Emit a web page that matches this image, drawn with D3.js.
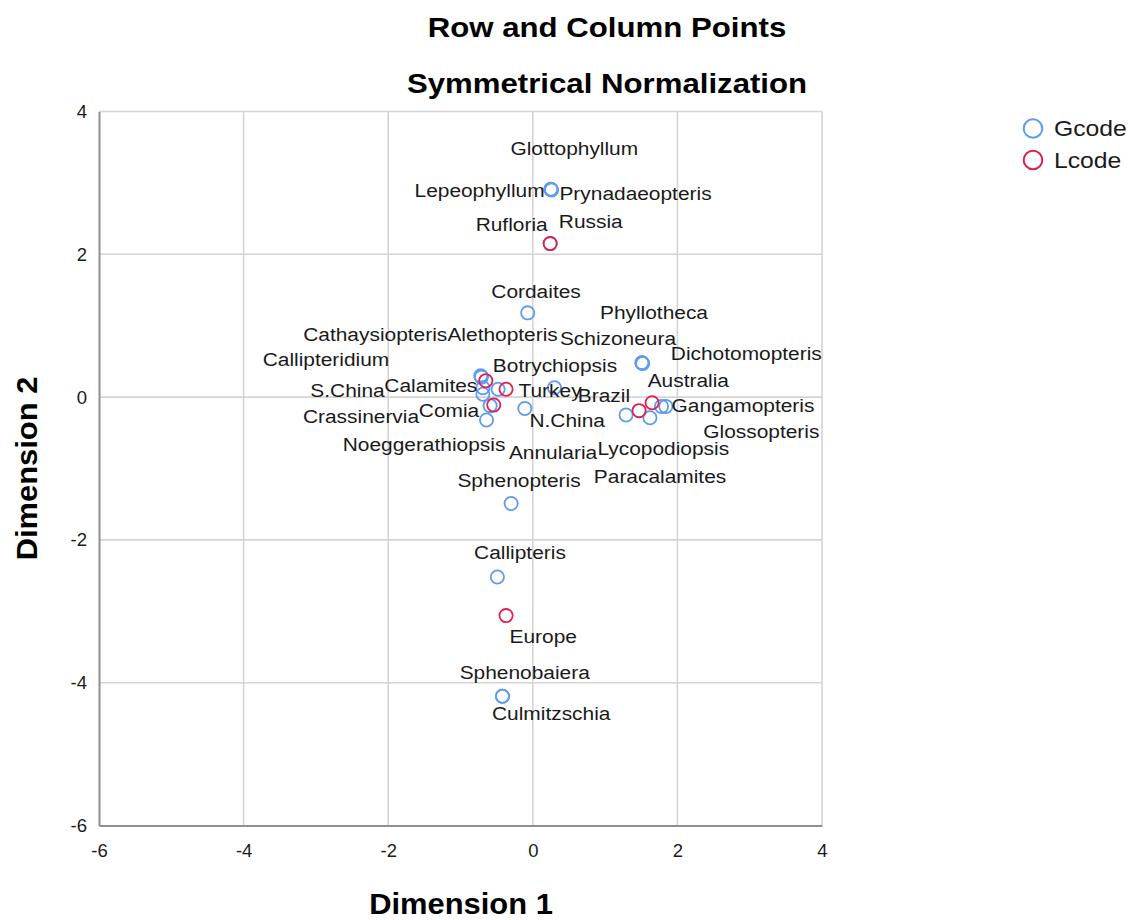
<!DOCTYPE html>
<html>
<head>
<meta charset="utf-8">
<script src="https://cdn.jsdelivr.net/npm/d3@7"></script>
<style>
  html, body { margin: 0; padding: 0; background: #ffffff; }
  svg { display: block; font-family: "Liberation Sans", Arial, sans-serif; }
</style>
</head>
<body>
<svg id="chart" width="1132" height="920"></svg>
<script>
// Row points (genera, Gcode)
const gcodeNames = [
  "Glottophyllum", "Lepeophyllum", "Prynadaeopteris", "Rufloria", "Cordaites",
  "Phyllotheca", "Schizoneura", "Dichotomopteris", "Cathaysiopteris", "Alethopteris",
  "Callipteridium", "Calamites", "Botrychiopsis", "Crassinervia", "Comia",
  "Noeggerathiopsis", "Annularia", "Gangamopteris", "Glossopteris", "Lycopodiopsis",
  "Paracalamites", "Sphenopteris", "Callipteris", "Sphenobaiera", "Culmitzschia"
];
const gcodeDim1 = [
  0.25, 0.25, 0.26, 0.24, -0.07,
  1.51, 1.51, 1.52, -0.72, -0.48,
  -0.71, -0.69, 0.30, -0.69, -0.59,
  -0.64, -0.11, 1.78, 1.84, 1.29,
  1.62, -0.30, -0.49, -0.42, -0.42
];
const gcodeDim2 = [
  2.91, 2.91, 2.90, 2.15, 1.18,
  0.48, 0.48, 0.47, 0.30, 0.11,
  0.28, 0.13, 0.13, 0.04, -0.12,
  -0.32, -0.16, -0.13, -0.13, -0.25,
  -0.29, -1.49, -2.52, -4.19, -4.19
];

// Column points (localities, Lcode)
const lcodeNames = ["Russia", "S.China", "Turkey", "N.China", "Brazil", "Australia", "Europe"];
const lcodeDim1  = [0.24, -0.65, -0.37, -0.54, 1.47, 1.65, -0.37];
const lcodeDim2  = [2.15, 0.23, 0.11, -0.11, -0.19, -0.08, -3.06];

const seriesNames = ["Gcode", "Lcode"];
const axisTicks = [-6, -4, -2, 0, 2, 4];
const titleLines = ["Row and Column Points", "Symmetrical Normalization"];
const xTitle = "Dimension 1";
const yTitle = "Dimension 2";

// Label placement: pixel offset of each label's centre from its point
const labelOffsets = {
  "Glottophyllum": [23.4, -40.5], "Lepeophyllum": [-71.3, 1.5], "Prynadaeopteris": [83.9, 3.3],
  "Rufloria": [-38.5, -19.1], "Russia": [40.6, -22.6], "Cordaites": [8.3, -21.9],
  "Phyllotheca": [12, -50.8], "Schizoneura": [-24, -24.8], "Dichotomopteris": [103.6, -9.8],
  "Cathaysiopteris": [-105.5, -41.7], "Alethopteris": [4.5, -55.2], "Callipteridium": [-155.5, -17.5],
  "Calamites": [-52.1, -2.3], "S.China": [-138.3, 9.3], "Botrychiopsis": [0.5, -22.8],
  "Turkey": [44, 0.8], "Australia": [36.2, -22.5], "Brazil": [-35.1, -14.9],
  "Gangamopteris": [81.5, -1.4], "Glossopteris": [95.5, 24.9], "Comia": [-41.1, 5],
  "Crassinervia": [-121.9, 22.5], "N.China": [73.4, 15.3], "Noeggerathiopsis": [-62.5, 24],
  "Annularia": [28.2, 43.5], "Lycopodiopsis": [37.2, 33.3], "Paracalamites": [10.1, 58.2],
  "Sphenopteris": [7.9, -23.5], "Callipteris": [22.6, -24.5], "Europe": [37.2, 20.4],
  "Sphenobaiera": [22.3, -24.3], "Culmitzschia": [48.8, 17]
};

const colors = { Gcode: "#5d9cf0", Lcode: "#dc2253" };

const svg = d3.select("#chart");

const x = d3.scaleLinear().domain([-6, 4]).range([99, 822]);
const y = d3.scaleLinear().domain([-6, 4]).range([825.5, 111.5]);

// Gridlines
const grid = svg.append("g");
grid.selectAll("line.gx")
  .data(axisTicks.filter(t => t !== -6))
  .join("line")
  .attr("x1", d => x(d)).attr("x2", d => x(d))
  .attr("y1", y(4)).attr("y2", y(-6))
  .attr("stroke", "#d4d4d4").attr("stroke-width", 1.6);
grid.selectAll("line.gy")
  .data(axisTicks.filter(t => t !== -6))
  .join("line")
  .attr("y1", d => y(d)).attr("y2", d => y(d))
  .attr("x1", x(-6)).attr("x2", x(4))
  .attr("stroke", "#d4d4d4").attr("stroke-width", 1.6);

// Axes (plain hyphen-minus in tick labels)
const tickFmt = d => String(d);
const xAxis = svg.append("g")
  .attr("transform", `translate(0,${y(-6)})`)
  .call(d3.axisBottom(x).tickValues(axisTicks).tickFormat(tickFmt)
    .tickSize(0).tickSizeOuter(0).tickPadding(18));
const yAxis = svg.append("g")
  .attr("transform", `translate(${x(-6)},0)`)
  .call(d3.axisLeft(y).tickValues(axisTicks).tickFormat(tickFmt)
    .tickSize(0).tickSizeOuter(0).tickPadding(12));
[xAxis, yAxis].forEach(g => {
  g.attr("font-family", null).attr("font-size", null);
  g.select(".domain").attr("stroke", "#8f8f8f").attr("stroke-width", 2);
  g.selectAll(".tick text")
    .attr("fill", "#1a1a1a")
    .style("font-size", "18.5px")
    .style("font-family", "'Liberation Sans', Arial, sans-serif");
});

// Points
const gPoints = gcodeNames.map((n, i) => ({ name: n, d1: gcodeDim1[i], d2: gcodeDim2[i], series: "Gcode" }));
const lPoints = lcodeNames.map((n, i) => ({ name: n, d1: lcodeDim1[i], d2: lcodeDim2[i], series: "Lcode" }));
const allPoints = gPoints.concat(lPoints);

svg.append("g").selectAll("circle")
  .data(allPoints)
  .join("circle")
  .attr("cx", d => x(d.d1))
  .attr("cy", d => y(d.d2))
  .attr("r", 6.6)
  .attr("fill", "none")
  .attr("stroke", d => colors[d.series])
  .attr("stroke-width", 1.8);

// Point labels
svg.append("g").selectAll("text")
  .data(allPoints)
  .join("text")
  .attr("transform", d => {
    const o = labelOffsets[d.name] || [0, -18];
    return `translate(${x(d.d1) + o[0]},${y(d.d2) + o[1]}) scale(1.1,1)`;
  })
  .attr("text-anchor", "middle")
  .attr("dy", "0.35em")
  .attr("font-size", 19)
  .attr("fill", "#1a1a1a")
  .text(d => d.name);

// Titles
svg.append("g").selectAll("text")
  .data(titleLines)
  .join("text")
  .attr("transform", (d, i) => `translate(607,${i === 0 ? 37 : 93}) scale(1.155,1)`)
  .attr("text-anchor", "middle")
  .attr("font-size", 27)
  .attr("font-weight", "bold")
  .attr("fill", "#000")
  .text(d => d);

svg.append("text")
  .attr("transform", "translate(461,914) scale(1.03,1)")
  .attr("text-anchor", "middle")
  .attr("font-size", 30)
  .attr("font-weight", "bold")
  .attr("fill", "#000")
  .text(xTitle);

svg.append("text")
  .attr("transform", "translate(37,468.5) rotate(-90) scale(1.03,1)")
  .attr("text-anchor", "middle")
  .attr("font-size", 30)
  .attr("font-weight", "bold")
  .attr("fill", "#000")
  .text(yTitle);

// Legend
const legend = svg.append("g").selectAll("g")
  .data(seriesNames)
  .join("g")
  .attr("transform", (d, i) => `translate(1033,${128.5 + i * 31.5})`);
legend.append("circle")
  .attr("r", 9.3)
  .attr("fill", "none")
  .attr("stroke", d => colors[d])
  .attr("stroke-width", 2);
legend.append("text")
  .attr("transform", "translate(21,0) scale(1.15,1)")
  .attr("dy", "0.36em")
  .attr("font-size", 21.5)
  .attr("fill", "#1a1a1a")
  .text(d => d);
</script>
</body>
</html>
